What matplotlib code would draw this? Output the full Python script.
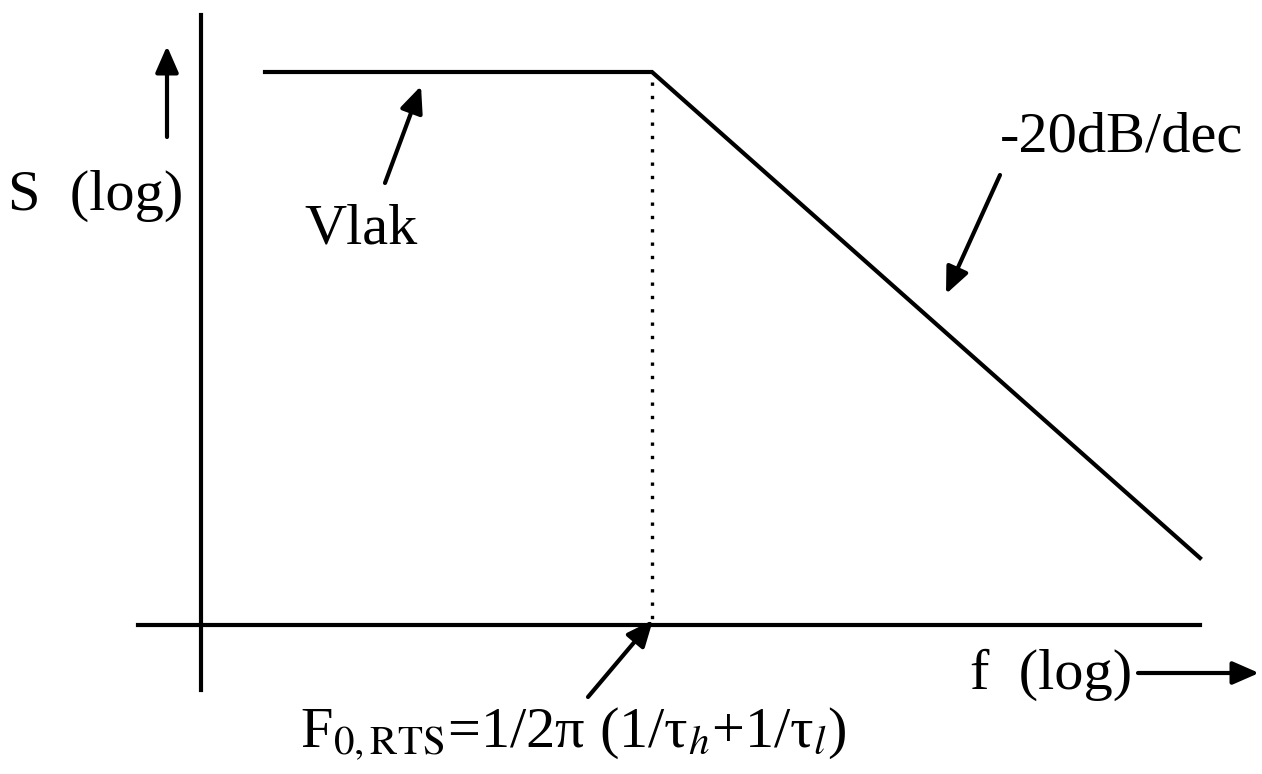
import matplotlib.pyplot as plt

plt.rcParams['font.family'] = ['Liberation Serif', 'DejaVu Serif']
plt.rcParams['mathtext.fontset'] = 'stix'

# spectrum corners (canvas units, y grows downward)
curve_x = [265, 652, 1200]
curve_y = [72, 72, 558]
corner_f = 652
origin_x = 201
origin_y = 625

fig = plt.figure(figsize=(12.62, 7.74), dpi=100)
ax = fig.add_axes([0, 0, 1, 1])
ax.set_xlim(0, 1262)
ax.set_ylim(774, 0)
ax.axis('off')

lw = 3.0
# axes
ax.plot([origin_x, origin_x], [15, 690], color='black', lw=lw)
ax.plot([138, 1200], [origin_y, origin_y], color='black', lw=lw)

# spectrum
ax.plot(curve_x, curve_y, color='black', lw=lw, solid_joinstyle='miter')
ax.plot([corner_f, corner_f], [curve_y[1] + 10, origin_y], color='black',
        lw=2.4, linestyle=(0, (1, 3.0)))

arrow = dict(arrowstyle='-|>,head_length=1.6,head_width=0.7', color='black', lw=3.0,
             shrinkA=0, shrinkB=0)
ax.annotate('', xy=(167, 46), xytext=(167, 137), arrowprops=arrow)
ax.annotate('', xy=(421, 86), xytext=(385, 183), arrowprops=arrow)
ax.annotate('', xy=(946, 294), xytext=(1000, 175), arrowprops=arrow)
ax.annotate('', xy=(653, 620), xytext=(588, 697), arrowprops=arrow)
ax.annotate('', xy=(1259, 673), xytext=(1138, 673), arrowprops=arrow)

fs = 42
ax.text(8, 196, 'S  (log)', fontsize=fs, ha='left', va='center')
ax.text(304, 230, 'Vlak', fontsize=fs, ha='left', va='center')
ax.text(1000, 138, '-20dB/dec', fontsize=fs, ha='left', va='center')
ax.text(970, 675, 'f  (log)', fontsize=fs, ha='left', va='center')
ax.text(300, 733, r'F$_{\mathrm{0,RTS}}$=1/2π (1/τ$_{h}$+1/τ$_{l}$)',
        fontsize=fs, ha='left', va='center')

fig.savefig('out.png', dpi=100, facecolor='white')
